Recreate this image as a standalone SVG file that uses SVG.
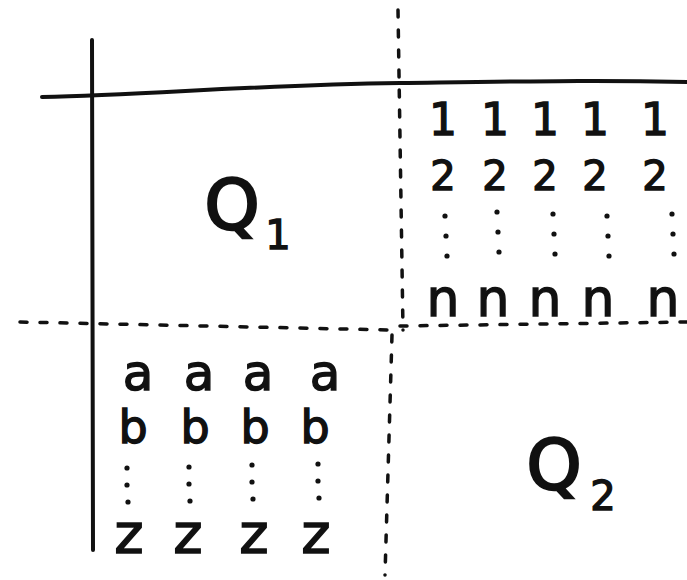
<svg xmlns="http://www.w3.org/2000/svg" width="687" height="580" viewBox="0 0 687 580">
<style>
.solid{fill:none;stroke:#111;stroke-width:4;stroke-linecap:round}
.dash{fill:none;stroke:#111;stroke-width:3.5;stroke-linecap:round;stroke-dasharray:7 13}
.t{font-family:"DejaVu Sans","Liberation Sans",sans-serif;fill:#111;stroke:#111;stroke-width:1.4;text-anchor:middle}
.q{font-size:70px;stroke-width:2.5}
.sub{font-size:40px}
.one{font-size:44px}
.two{font-size:40px}
.n{font-size:52px}
.a{font-size:50px}
.b{font-size:46px}
.z{font-size:56px}
.dot{fill:#111}
</style>
<defs>
<g id="vdotsT"><circle class="dot" cx="0" cy="0" r="2.6"/><circle class="dot" cx="1" cy="20" r="2.6"/><circle class="dot" cx="2" cy="40" r="2.6"/></g>
<g id="vdotsB"><circle class="dot" cx="0" cy="0" r="2.6"/><circle class="dot" cx="0" cy="17" r="2.6"/><circle class="dot" cx="1" cy="34" r="2.6"/></g>
</defs>
<rect width="687" height="580" fill="#fff"/>
<g id="axes">
<path class="solid" d="M92,40 L93,550"/>
<path class="solid" d="M42,97 C150,95 250,85 400,83 S600,80 687,82"/>
</g>
<g id="dividers">
<path class="dash" d="M398,10 L403,330"/>
<path class="dash" d="M392,335 L385,575"/>
<path class="dash" d="M20,322 L390,330"/>
<path class="dash" d="M400,326 L687,322"/>
</g>
<g id="Q1">
<text class="t q" x="232" y="229">Q</text>
<text class="t sub" x="278" y="249">1</text>
</g>
<g id="Q2">
<text class="t q" x="554" y="489">Q</text>
<text class="t sub" x="603" y="510">2</text>
</g>
<g id="columns-top">
<text class="t one" x="443" y="135">1</text><text class="t one" x="495" y="135">1</text><text class="t one" x="545" y="135">1</text><text class="t one" x="595" y="135">1</text><text class="t one" x="655" y="135">1</text>
<text class="t two" x="443" y="190">2</text><text class="t two" x="495" y="190">2</text><text class="t two" x="545" y="190">2</text><text class="t two" x="595" y="190">2</text><text class="t two" x="655" y="190">2</text>
<use href="#vdotsT" x="445" y="216"/><use href="#vdotsT" x="497" y="212"/><use href="#vdotsT" x="553" y="214"/><use href="#vdotsT" x="607" y="216"/><use href="#vdotsT" x="672" y="214"/>
<text class="t n" x="443" y="316">n</text><text class="t n" x="493" y="316">n</text><text class="t n" x="545" y="316">n</text><text class="t n" x="598" y="316">n</text><text class="t n" x="663" y="316">n</text>
</g>
<g id="columns-bottom">
<text class="t a" x="138" y="390">a</text><text class="t a" x="199" y="390">a</text><text class="t a" x="258" y="390">a</text><text class="t a" x="325" y="390">a</text>
<text class="t b" x="133" y="443">b</text><text class="t b" x="195" y="443">b</text><text class="t b" x="255" y="443">b</text><text class="t b" x="315" y="443">b</text>
<use href="#vdotsB" x="127" y="468"/><use href="#vdotsB" x="189" y="467"/><use href="#vdotsB" x="252" y="465"/><use href="#vdotsB" x="318" y="464"/>
<text class="t z" x="129" y="553">z</text><text class="t z" x="188" y="553">z</text><text class="t z" x="254" y="553">z</text><text class="t z" x="316" y="553">z</text>
</g>
</svg>
